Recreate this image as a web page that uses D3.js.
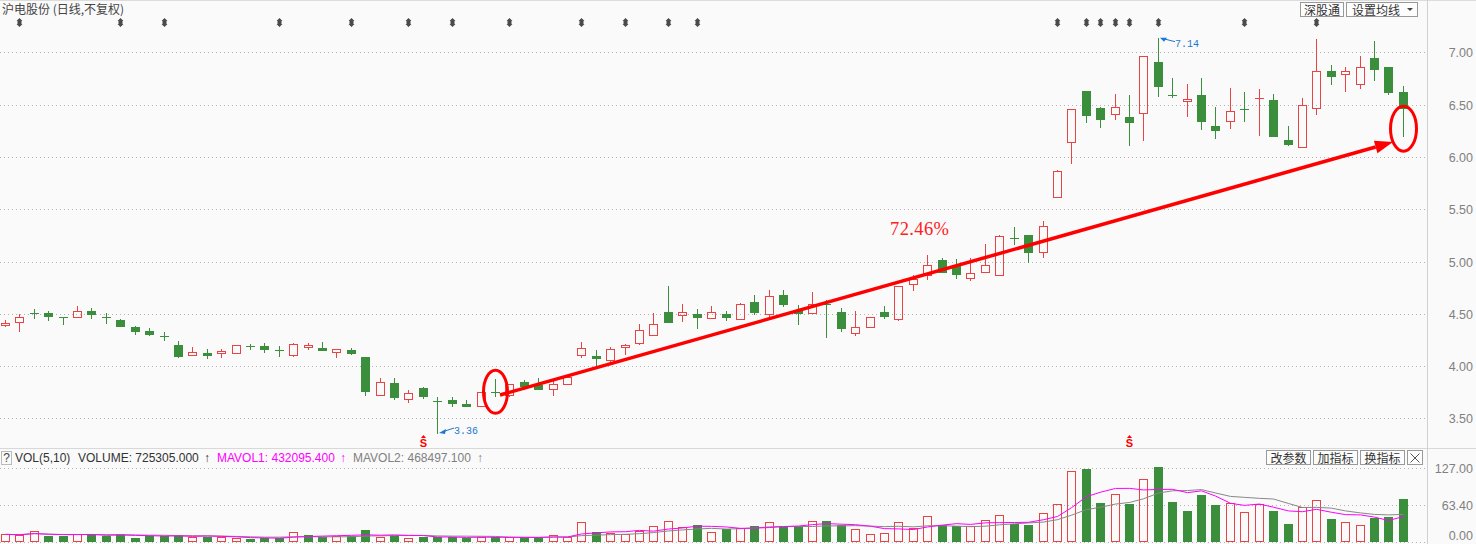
<!DOCTYPE html>
<html lang="zh-CN">
<head>
<meta charset="utf-8">
<title>沪电股份 (日线,不复权)</title>
<script src="https://cdn.jsdelivr.net/npm/d3@7"></script>
<style>
  html, body { margin: 0; padding: 0; background: #fafafa; }
  svg { display: block; }
  text { font-family: "Liberation Sans", Arial, sans-serif; }
  text.cjk { font-family: "Noto Sans CJK SC", "Noto Sans", sans-serif; }
  text.mono { font-family: "Liberation Mono", "DejaVu Sans Mono", monospace; }
  text.serif { font-family: "Liberation Serif", "DejaVu Serif", serif; }
</style>
</head>
<body>
<script>
// daily bars, oldest first (price in yuan, volume in 10k lots)
var opens = [4.395,4.42,4.51,4.51,4.47,4.47,4.53,4.47,4.44,4.37,
             4.34,4.29,4.206,4.107,4.13,4.123,4.126,4.19,4.196,4.15,
             4.104,4.18,4.174,4.136,4.15,4.09,3.724,3.842,3.685,3.794,
             3.67,3.679,3.64,3.615,3.755,3.72,3.85,3.82,3.783,3.83,
             4.108,4.10,4.06,4.185,4.223,4.30,4.52,4.49,4.494,4.462,
             4.497,4.452,4.615,4.497,4.675,4.538,4.51,4.596,4.519,4.315,
             4.376,4.513,4.449,4.789,4.869,5.013,4.965,4.846,4.904,4.875,
             5.228,5.253,5.087,5.62,6.147,6.63,6.466,6.406,6.38,6.42,
             6.907,6.59,6.53,6.59,6.30,6.339,6.457,6.55,6.543,6.16,
             6.093,6.463,6.82,6.79,6.693,6.946,6.86,6.62];
var highs = [4.44,4.50,4.545,4.53,4.47,4.57,4.56,4.51,4.455,4.385,
             4.366,4.33,4.24,4.18,4.165,4.165,4.20,4.21,4.22,4.19,
             4.225,4.225,4.235,4.165,4.174,4.09,3.887,3.887,3.775,3.804,
             3.70,3.70,3.68,3.75,3.877,3.83,3.863,3.882,3.873,3.914,
             4.226,4.15,4.185,4.213,4.404,4.51,4.77,4.59,4.548,4.576,
             4.525,4.605,4.675,4.73,4.732,4.586,4.71,4.634,4.557,4.529,
             4.471,4.57,4.77,4.869,5.061,5.035,5.022,5.038,5.167,5.253,
             5.33,5.253,5.388,5.87,6.457,6.63,6.473,6.598,6.59,6.965,
             7.14,6.754,6.696,6.754,6.476,6.66,6.62,6.65,6.60,6.294,
             6.565,7.13,6.88,6.86,6.965,7.11,6.86,6.677];
var lows = [4.38,4.34,4.46,4.44,4.40,4.47,4.46,4.41,4.38,4.31,
            4.30,4.25,4.085,4.107,4.075,4.09,4.126,4.16,4.136,4.10,
            4.094,4.16,4.15,4.085,4.116,3.72,3.724,3.685,3.653,3.695,
            3.36,3.615,3.615,3.615,3.717,3.71,3.777,3.78,3.723,3.83,
            4.086,4.0,4.022,4.118,4.213,4.30,4.42,4.43,4.366,4.462,
            4.44,4.452,4.497,4.468,4.573,4.40,4.51,4.277,4.34,4.293,
            4.376,4.459,4.436,4.724,4.83,4.90,4.843,4.827,4.904,4.875,
            5.17,4.997,5.045,5.62,5.94,6.335,6.29,6.367,6.118,6.166,
            6.585,6.57,6.393,6.262,6.185,6.28,6.339,6.21,6.198,6.118,
            6.093,6.41,6.70,6.633,6.66,6.738,6.604,6.198];
var closes = [4.41,4.47,4.50,4.48,4.46,4.53,4.50,4.46,4.38,4.34,
              4.305,4.28,4.094,4.139,4.107,4.142,4.20,4.186,4.166,4.145,
              4.212,4.20,4.158,4.165,4.123,3.759,3.851,3.70,3.743,3.714,
              3.665,3.647,3.615,3.75,3.745,3.83,3.81,3.783,3.83,3.90,
              4.175,4.076,4.166,4.197,4.347,4.404,4.42,4.52,4.471,4.519,
              4.471,4.596,4.516,4.672,4.592,4.506,4.596,4.58,4.36,4.37,
              4.471,4.478,4.77,4.83,4.971,4.90,4.88,4.89,4.962,5.244,
              5.221,5.093,5.34,5.869,6.457,6.40,6.358,6.473,6.335,6.965,
              6.68,6.58,6.553,6.345,6.259,6.438,6.454,6.562,6.198,6.125,
              6.50,6.82,6.77,6.82,6.856,6.837,6.623,6.463];
var volumes = [12.6,11.4,17.7,9.7,9.7,12.6,12.6,10.3,12.6,6.3,
               9.7,9.7,11.4,8.6,8.6,7.4,5.7,4.6,6.3,6.3,
               16.0,11.4,8.0,9.7,9.7,20.0,8.6,10.3,5.7,8.0,
               8.0,8.0,6.9,8.0,7.4,7.4,6.9,7.4,11.4,7.4,
               33.2,16.6,15.4,13.2,18.9,26.3,34.9,24.6,28.6,17.2,
               21.2,22.9,26.9,33.2,25.7,25.7,34.9,35.5,28.6,21.2,
               12.6,14.3,33.2,22.9,43.5,28.6,26.9,26.3,36.6,45.2,
               29.7,28.6,48.6,64.1,120.7,124.7,66.4,81.2,64.6,107.5,
               128.1,68.1,52.6,80.1,62.9,65.8,50.3,64.1,53,31,
               59,71,38.4494,33,28.5,40,42.0172,72.5305];

var priceTicks = [3.5, 4.0, 4.5, 5.0, 5.5, 6.0, 6.5, 7.0];
var volTicks = [0, 63.4, 127];
var flagIdx = [1,8,11,19,24,28,31,35,40,43,46,48,73,75,76,77,78,80,86,91];
var sIdx = [29, 78];

var W = 1476, H = 544;
var red = "#e84444", green = "#3a8e3c", grid = "#b4b4b4";

var svg = d3.select("body").append("svg").attr("width", W).attr("height", H);
svg.append("rect").attr("width", W).attr("height", H).attr("fill", "#fafafa");

var n = closes.length;
var data = closes.map(function(c, i) {
    return {i: i, o: opens[i], h: highs[i], l: lows[i], c: c, v: volumes[i],
            up: c >= opens[i], vup: i === 0 ? true : c >= closes[i - 1]};
});

var x = d3.scaleBand().domain(d3.range(n)).range([-2.2, 1410]);
function cx(i) { return Math.round(x(i) + x.bandwidth() / 2); }
var y = d3.scaleLinear().domain([3.5, 7]).range([418.4, 52.3]);
var yv = d3.scaleLinear().domain([0, 127]).range([541.7, 467.7]);

// frame
svg.append("line").attr("x1", 0).attr("x2", W).attr("y1", 0.5).attr("y2", 0.5).attr("stroke", "#dcdcdc");
svg.append("line").attr("x1", 0).attr("x2", W).attr("y1", 448.5).attr("y2", 448.5).attr("stroke", "#d8d8d8");
svg.append("line").attr("x1", 1427.5).attr("x2", 1427.5).attr("y1", 0).attr("y2", H).attr("stroke", "#d0d0d0");

// grid
svg.append("g").selectAll("line").data(priceTicks).enter().append("line")
    .attr("x1", 0).attr("x2", 1426)
    .attr("y1", function(d){ return Math.round(y(d)) + 0.5; })
    .attr("y2", function(d){ return Math.round(y(d)) + 0.5; })
    .attr("stroke", grid).attr("stroke-dasharray", "1,3");
svg.append("g").selectAll("line").data(volTicks).enter().append("line")
    .attr("x1", 0).attr("x2", 1426)
    .attr("y1", function(d){ return Math.round(yv(d)) + 0.5; })
    .attr("y2", function(d){ return Math.round(yv(d)) + 0.5; })
    .attr("stroke", grid).attr("stroke-dasharray", "1,3");

// candles
var candles = svg.append("g").selectAll("g").data(data).enter().append("g");
candles.each(function(d) {
    var g = d3.select(this), xc = cx(d.i);
    var top = Math.round(y(Math.max(d.o, d.c))), bot = Math.round(y(Math.min(d.o, d.c)));
    var hi = Math.round(y(d.h)), lo = Math.round(y(d.l));
    var col = d.up ? red : green;
    if (bot - top < 2 || !d.up) {
        g.append("line").attr("x1", xc + 0.5).attr("x2", xc + 0.5)
            .attr("y1", hi).attr("y2", lo + 1).attr("stroke", col);
        g.append("rect").attr("x", xc - 4).attr("y", top).attr("width", 9)
            .attr("height", Math.max(bot - top, 1) + (bot - top < 2 ? 0 : 1)).attr("fill", col);
    } else {
        if (hi < top) g.append("line").attr("x1", xc + 0.5).attr("x2", xc + 0.5)
            .attr("y1", hi).attr("y2", top).attr("stroke", col);
        if (lo > bot) g.append("line").attr("x1", xc + 0.5).attr("x2", xc + 0.5)
            .attr("y1", bot + 1).attr("y2", lo + 1).attr("stroke", col);
        g.append("rect").attr("x", xc - 3.5).attr("y", top + 0.5).attr("width", 8)
            .attr("height", bot - top).attr("fill", "none").attr("stroke", col);
    }
});

// volume bars
var vbars = svg.append("g").selectAll("rect").data(data).enter().append("rect");
vbars.each(function(d) {
    var r = d3.select(this), xc = cx(d.i), t = Math.round(yv(d.v));
    if (d.vup) {
        r.attr("x", xc - 3.5).attr("y", t + 0.5).attr("width", 8).attr("height", 541 - t)
         .attr("fill", "none").attr("stroke", red);
    } else {
        r.attr("x", xc - 4).attr("y", t).attr("width", 9).attr("height", 542 - t).attr("fill", green);
    }
});

// volume moving averages
function movAvg(k) {
    return volumes.map(function(v, i) {
        var s = volumes.slice(Math.max(0, i - k + 1), i + 1);
        return d3.mean(s);
    });
}
var ma5 = movAvg(5), ma10 = movAvg(10);
var maLine = d3.line().x(function(d, i){ return cx(i) + 0.5; }).y(function(d){ return yv(d); });
svg.append("path").attr("d", maLine(ma10)).attr("fill", "none").attr("stroke", "#888").attr("stroke-width", 1);
svg.append("path").attr("d", maLine(ma5)).attr("fill", "none").attr("stroke", "#ff00ff").attr("stroke-width", 1);

// flags at top
var flags = svg.append("g").attr("fill", "#4a4a4a");
flagIdx.forEach(function(i) {
    var c = cx(i) + 0.5;
    flags.append("path").attr("d",
        "M" + c + ",18 L" + (c + 3) + ",21 L" + (c + 2) + ",21 L" + (c + 2) + ",24 L" + (c + 3) + ",24 L" +
        c + ",27 L" + (c - 3) + ",24 L" + (c - 2) + ",24 L" + (c - 2) + ",21 L" + (c - 3) + ",21 Z");
});

// S marks
sIdx.forEach(function(i) {
    var c = cx(i) + 0.5;
    svg.append("path").attr("d", "M" + (c - 2.5) + ",438 L" + c + ",435 L" + (c + 2.5) + ",438 Z").attr("fill", "#f00");
    svg.append("text").attr("x", c).attr("y", 446.5).attr("text-anchor", "middle")
        .attr("font-size", 11).attr("font-weight", "bold").attr("fill", "#f00").text("S");
});

// min / max labels
function extremeLabel(i, price, below) {
    var px = cx(i) + 2, py = y(price);
    var ly = below ? py - 5 : py + 4;
    var g = svg.append("g");
    g.append("line").attr("x1", px + 3).attr("y1", below ? py - 1 : py + 1).attr("x2", px + 15).attr("y2", ly)
        .attr("stroke", "#1a78d2").attr("stroke-width", 1);
    g.append("path").attr("d", below
        ? "M" + px + "," + py + " L" + (px + 7) + "," + (py - 4) + " L" + (px + 6) + "," + (py + 1) + " Z"
        : "M" + px + "," + py + " L" + (px + 7) + "," + (py) + " L" + (px + 4) + "," + (py + 4) + " Z")
        .attr("fill", "#1a78d2");
    g.append("text").attr("class", "mono").attr("x", px + 15).attr("y", below ? py + 1 : py + 9)
        .attr("font-size", 10).attr("fill", "#1a78d2").text(d3.format(".2f")(price));
}
extremeLabel(30, d3.min(lows), true);
extremeLabel(80, d3.max(highs), false);

// hand-drawn annotation
var arrowFrom = {i: 34, dx: 5, p: 3.724}, arrowTo = {i: 97, dx: -10, p: 6.142};
var ax1 = cx(arrowFrom.i) + arrowFrom.dx, ay1 = y(arrowFrom.p);
var ax2 = cx(arrowTo.i) + arrowTo.dx, ay2 = y(arrowTo.p);
var ang = Math.atan2(ay2 - ay1, ax2 - ax1), hl = 18, hw = 6.5;
var bx = ax2 - hl * Math.cos(ang), by = ay2 - hl * Math.sin(ang);
svg.append("line").attr("x1", ax1).attr("y1", ay1).attr("x2", bx).attr("y2", by)
    .attr("stroke", "#ff0000").attr("stroke-width", 3.5);
svg.append("path").attr("d", "M" + ax2 + "," + ay2 +
    " L" + (bx + hw * Math.sin(ang)) + "," + (by - hw * Math.cos(ang)) +
    " L" + (bx - hw * Math.sin(ang)) + "," + (by + hw * Math.cos(ang)) + " Z").attr("fill", "#ff0000");
svg.append("ellipse").attr("cx", cx(34) + 0.5).attr("cy", y(3.755)).attr("rx", 12).attr("ry", 21.5)
    .attr("fill", "none").attr("stroke", "#ff0000").attr("stroke-width", 3);
svg.append("ellipse").attr("cx", cx(97) + 0.5).attr("cy", y(6.27)).attr("rx", 13).attr("ry", 22.5)
    .attr("fill", "none").attr("stroke", "#ff0000").attr("stroke-width", 3);
svg.append("text").attr("class", "serif").attr("x", cx(62) - 8).attr("y", y(5.255))
    .attr("font-size", 18.5).attr("textLength", 59).attr("lengthAdjust", "spacing")
    .attr("fill", "#ff2020").text("72.46%");

// right axis labels
svg.append("g").selectAll("text").data(priceTicks).enter().append("text")
    .attr("x", 1473).attr("y", function(d){ return y(d) + 5; })
    .attr("text-anchor", "end").attr("font-size", 12.5).attr("fill", "#808080")
    .text(d3.format(".2f"));
svg.append("g").selectAll("text").data(volTicks).enter().append("text")
    .attr("x", 1473).attr("y", function(d){ return Math.min(yv(d) + 5, 540); })
    .attr("text-anchor", "end").attr("font-size", 12.5).attr("fill", "#808080")
    .text(d3.format(".2f"));

// title
svg.append("text").attr("class", "cjk").attr("x", 2).attr("y", 14).attr("font-size", 12)
    .attr("fill", "#444").text("沪电股份 (日线,不复权)");

// buttons
function button(bx, by, w, label) {
    svg.append("rect").attr("x", bx + 0.5).attr("y", by + 0.5).attr("width", w).attr("height", 14)
        .attr("fill", "#fdfdfd").attr("stroke", "#999");
    if (label) svg.append("text").attr("class", "cjk").attr("x", bx + w / 2 + 0.5).attr("y", by + 12.5)
        .attr("text-anchor", "middle").attr("font-size", 12).attr("fill", "#333").text(label);
}
button(1300, 2, 43, "深股通");
button(1346, 2, 71, null);
svg.append("text").attr("class", "cjk").attr("x", 1352).attr("y", 14.5).attr("font-size", 12)
    .attr("fill", "#333").text("设置均线");
svg.append("path").attr("d", "M1407,8 L1413,8 L1410,11 Z").attr("fill", "#444");
button(1266, 450, 44, "改参数");
button(1313, 450, 44, "加指标");
button(1360, 450, 44, "换指标");
button(1407, 450, 15, null);
svg.append("path").attr("d", "M1410.5,453.5 L1419.5,462.5 M1419.5,453.5 L1410.5,462.5")
    .attr("stroke", "#555").attr("stroke-width", 1);

// volume legend
var fmt3 = d3.format(".3f");
svg.append("rect").attr("x", 1.5).attr("y", 451.5).attr("width", 10).attr("height", 13)
    .attr("fill", "none").attr("stroke", "#bbb");
svg.append("text").attr("x", 6.5).attr("y", 462).attr("text-anchor", "middle").attr("font-size", 12)
    .attr("fill", "#444").text("?");
var legend = [
    {x: 15, t: "VOL(5,10)", c: "#333"},
    {x: 78, t: "VOLUME: " + fmt3(volumes[n - 1] * 1e4), c: "#333"},
    {x: 204, t: "↑", c: "#333"},
    {x: 217, t: "MAVOL1: " + fmt3(ma5[n - 1] * 1e4), c: "#ff00ff"},
    {x: 340, t: "↑", c: "#ff00ff"},
    {x: 353, t: "MAVOL2: " + fmt3(ma10[n - 1] * 1e4), c: "#808080"},
    {x: 477, t: "↑", c: "#808080"}
];
svg.append("g").selectAll("text").data(legend).enter().append("text")
    .attr("x", function(d){ return d.x; }).attr("y", 462).attr("font-size", 12)
    .attr("fill", function(d){ return d.c; }).text(function(d){ return d.t; });
</script>
</body>
</html>
